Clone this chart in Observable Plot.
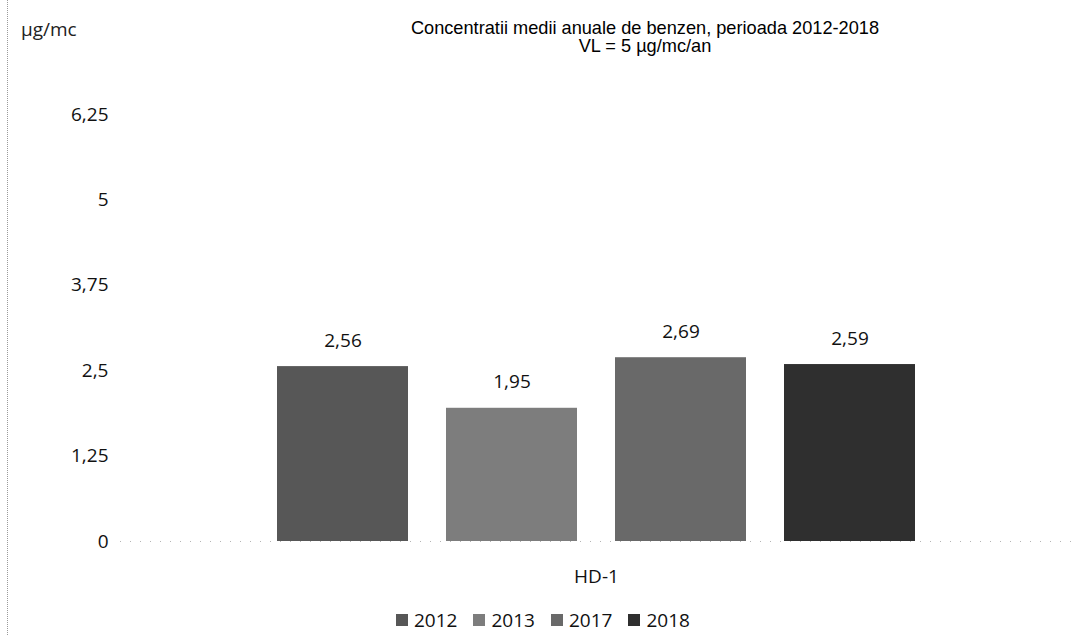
<!DOCTYPE html>
<html>
<head>
<meta charset="utf-8">
<script src="https://cdn.jsdelivr.net/npm/d3@7"></script>
<script src="https://cdn.jsdelivr.net/npm/@observablehq/plot@0.6"></script>
<style>
  html, body { margin: 0; padding: 0; background: #fff; }
  #wrap { position: relative; width: 1083px; height: 635px; overflow: hidden; background: #fff; }
  #chart { position: absolute; left: 0; top: 0; }
  #edge { position: absolute; left: 7px; top: 0; height: 635px; border-left: 1px dotted #9a9a9a; }
  #unit { position: absolute; left: 21px; top: 16px; font: 19px "Open Sans", sans-serif; color: #222; }
  #title { position: absolute; left: 645px; top: 19px; transform: translateX(-50%); text-align: center;
           font: 18.2px "Liberation Sans", Arial, sans-serif; line-height: 18px; color: #000; white-space: nowrap; }
  #legend { position: absolute; left: 396px; top: 607px; display: flex; align-items: center;
            font: 19px "Open Sans", sans-serif; color: #111; }
  #legend .item { display: flex; align-items: center; margin-right: 16px; }
  #legend .sw { width: 12px; height: 12px; margin-right: 6px; }
</style>
</head>
<body>
<div id="wrap">
  <div id="edge"></div>
  <div id="unit">µg/mc</div>
  <div id="title">Concentratii medii anuale de benzen, perioada 2012-2018<br>VL = 5 µg/mc/an</div>
  <div id="chart"></div>
  <div id="legend"></div>
</div>
<script>
// Annual mean benzene concentration at station HD-1
const years = ["2012", "2013", "2017", "2018"];
const values = [2.56, 1.95, 2.69, 2.59];
const fills = ["#575757", "#7d7d7d", "#696969", "#2f2f2f"];
const yTicks = [0, 1.25, 2.5, 3.75, 5, 6.25];
const station = ["HD-1"];

const data = years.map((year, i) => ({year, value: values[i]}));
const fmt = (v) => String(v).replace(".", ",");

const chart = Plot.plot({
  width: 1083,
  height: 600,
  marginLeft: 120,
  marginRight: 11,
  marginTop: 114,
  marginBottom: 59,
  style: {fontFamily: "'Open Sans', sans-serif", fontSize: "19px", color: "#111", background: "transparent"},
  x: {domain: years, paddingInner: 0.224, paddingOuter: 0.112, insetLeft: 137, insetRight: 137, axis: null},
  y: {domain: [0, 6.25], axis: null},
  color: {domain: years, range: fills},
  marks: [
    Plot.axisY(yTicks, {tickSize: 0, tickPadding: 12, tickFormat: fmt, label: null}),
    Plot.ruleY([0], {stroke: "#b5b5b5", strokeDasharray: "1,9"}),
    Plot.barY(data, {x: "year", y: "value", fill: "year"}),
    Plot.text(data, {x: "year", y: "value", text: (d) => fmt(d.value), dy: -26, fill: "#111"}),
    Plot.text(station, {text: (d) => d, frameAnchor: "bottom", lineAnchor: "middle", dy: 35, fill: "#111"})
  ]
});
document.getElementById("chart").append(chart);

// Legend: one swatch per year
const legend = document.getElementById("legend");
years.forEach((year, i) => {
  const item = document.createElement("div");
  item.className = "item";
  const sw = document.createElement("span");
  sw.className = "sw";
  sw.style.background = fills[i];
  const label = document.createElement("span");
  label.textContent = year;
  item.append(sw, label);
  legend.append(item);
});
</script>
</body>
</html>
